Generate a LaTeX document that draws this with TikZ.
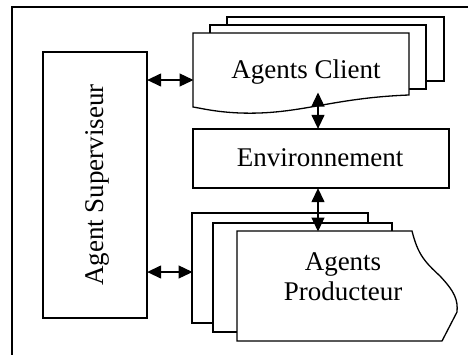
\documentclass[tikz,border=0pt]{standalone}
\usepackage{fontspec}
\setmainfont{Liberation Serif}
\usetikzlibrary{arrows.meta}
\begin{document}
\begin{tikzpicture}[x=1pt,y=-1pt,
  line/.style={line width=1.3pt, line join=miter},
  page/.style={line, fill=white},
  lbl/.style={font=\fontsize{27}{30}\selectfont, inner sep=0pt, align=center},
  link/.style={line width=1.3pt, {Triangle[length=14pt,width=13pt]}-{Triangle[length=14pt,width=13pt]}, shorten <=-0.5pt, shorten >=-0.5pt}]
\useasboundingbox (0,0) rectangle (468,354);
\clip (0,0) rectangle (468,354);
% outer frame
\draw[line] (12,7) rectangle (490,380);
% supervisor
\node[line, draw, minimum width=104pt, minimum height=266pt, inner sep=0pt] (sup) at (95,185) {};
\node[lbl, rotate=90] (suplbl) at (97,185) {Agent Superviseur};
% client pages
\draw[page] (227,17) rectangle (444,81);
\draw[page] (210,25) rectangle (426,89);
\draw[page] (193,33) -- (409,33) -- (409,95)
  .. controls (330,98) and (300,115) .. (240,113)
  .. controls (215,112) and (200,108) .. (193,107) -- cycle;
\coordinate (cliL) at (193,80);
\coordinate (cliB) at (318,93);
\node[lbl] (cli) at (306,72) {Agents Client};
% environment
\node[line, draw, minimum width=256pt, minimum height=59pt, inner sep=0pt] (env) at (321,158.5) {};
\node[lbl] (envlbl) at (320,158) {Environnement};
% producer pages
\draw[page] (192,213) rectangle (368,323);
\draw[page] (213,223) rectangle (392,332);
\draw[page] (237,231) -- (412,231)
  .. controls (418,255) and (425,262) .. (440,276)
  .. controls (455,292) and (458,300) .. (457,312)
  -- (442,341) -- (237,341) -- cycle;
\coordinate (proL) at (192,272);
\coordinate (proT) at (318,231);
\node[lbl] (pro) at (343,277) {Agents\\Producteur};
% connectors
\draw[link] (sup.east |- cliL) -- (cliL);
\draw[link] (sup.east |- proL) -- (proL);
\draw[link] (cliB) -- (cliB |- env.north);
\draw[link] (cliB |- env.south) -- (proT);
\end{tikzpicture}
\end{document}
